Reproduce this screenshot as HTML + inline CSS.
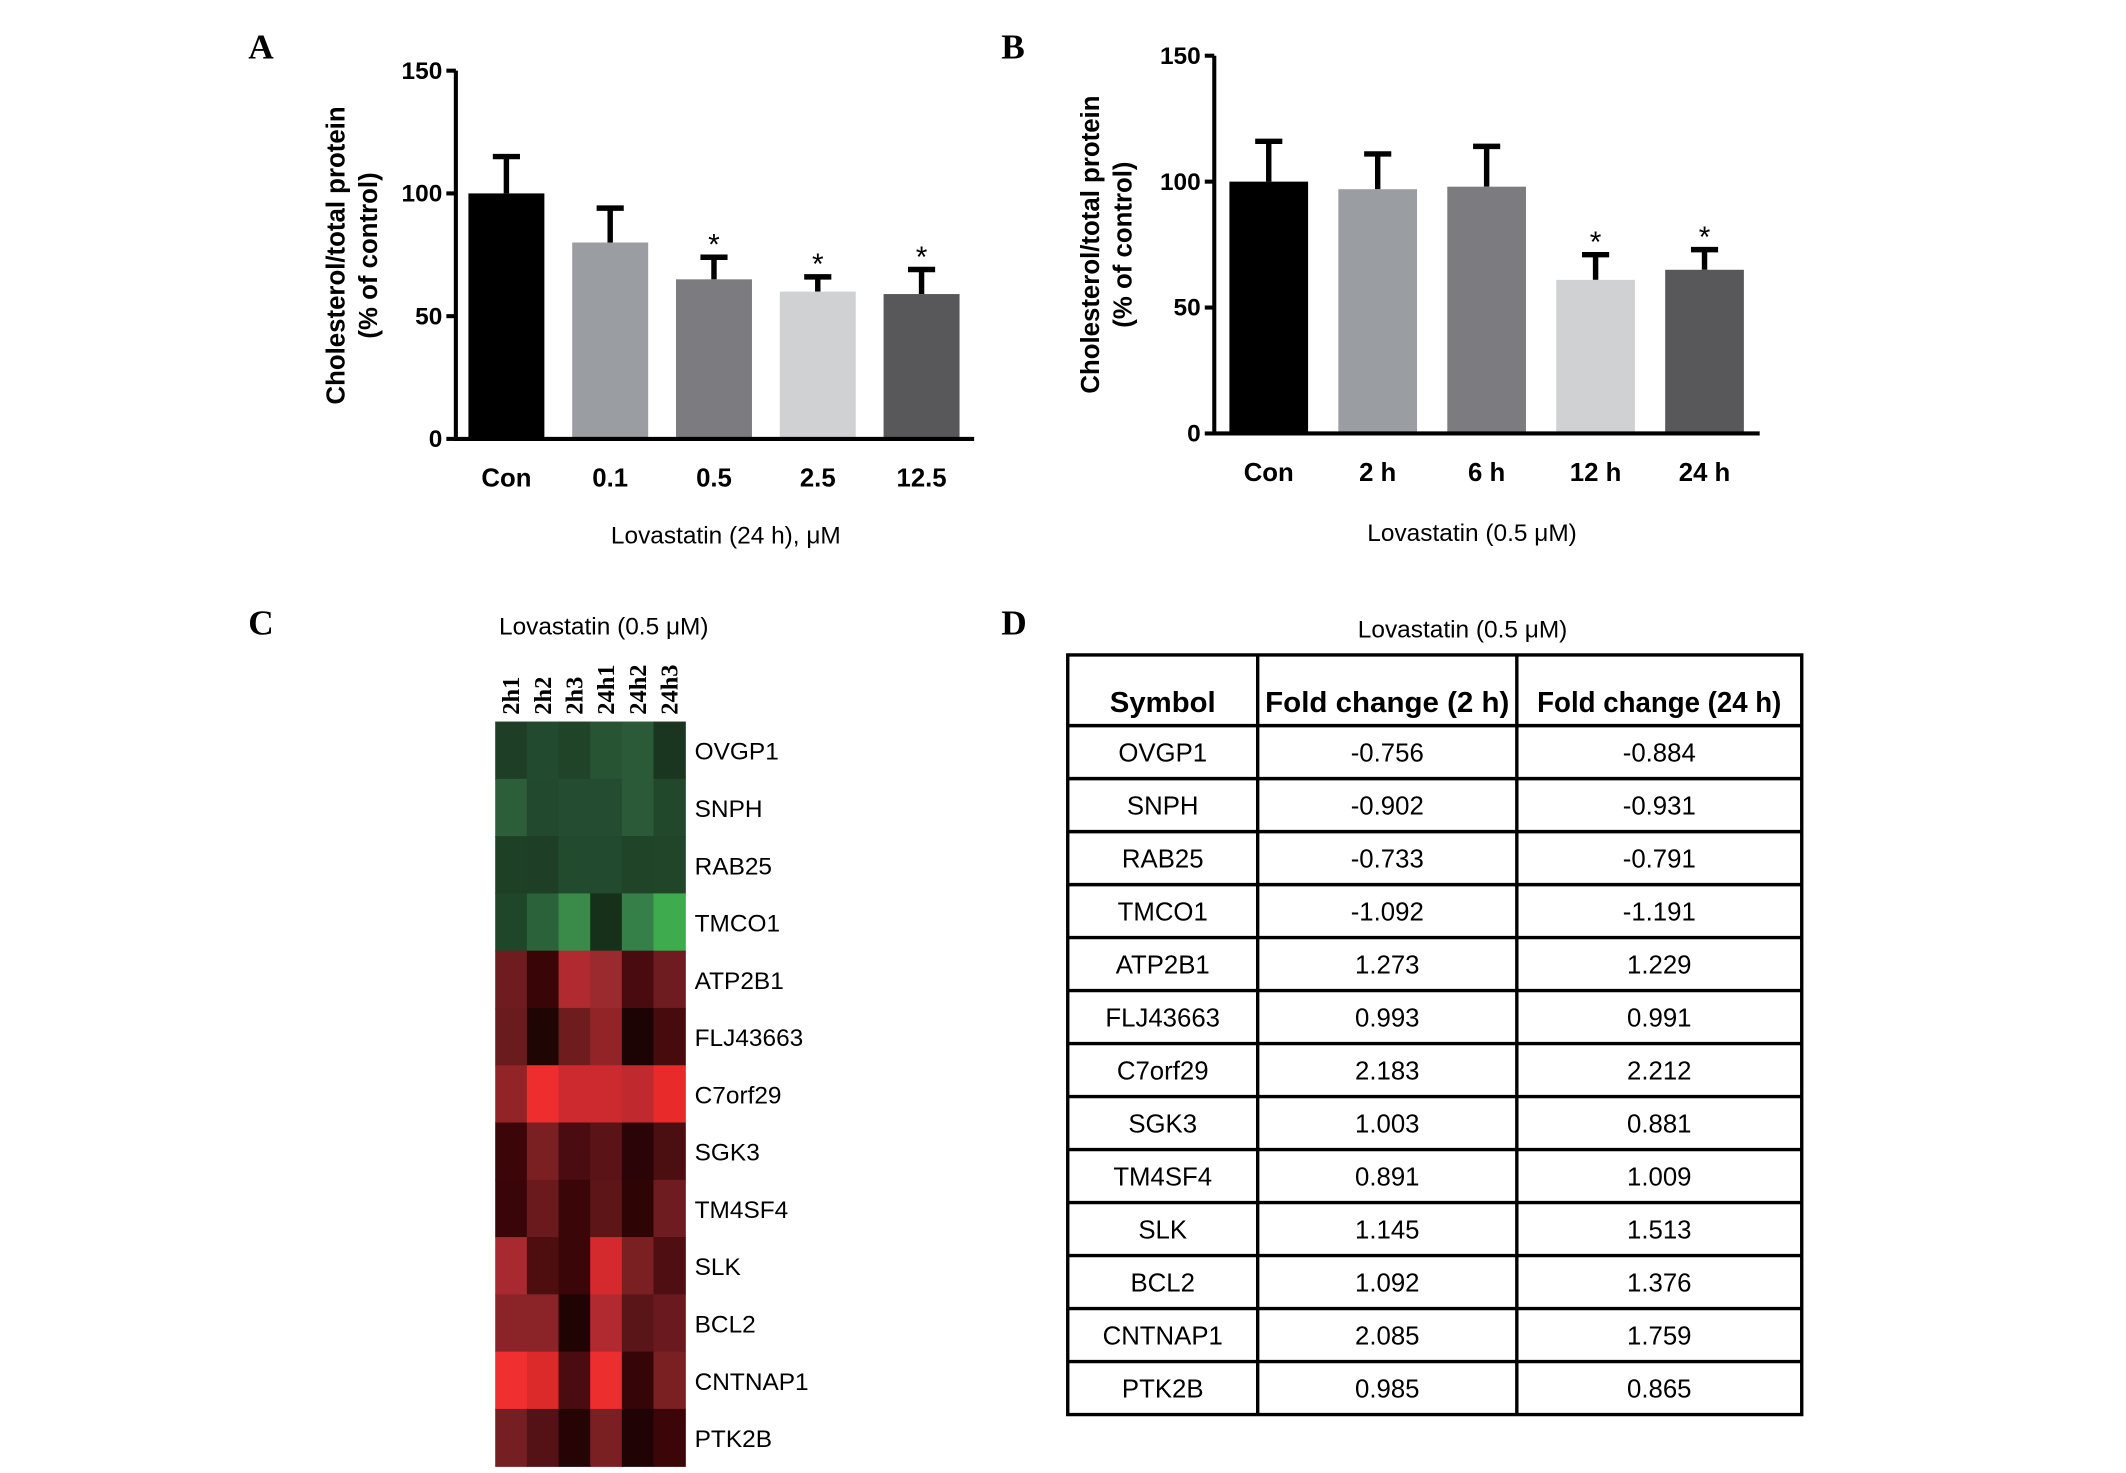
<!DOCTYPE html>
<html><head><meta charset="utf-8"><style>
html,body{margin:0;padding:0;background:#fff}
svg{display:block}
text{font-family:"Liberation Sans",Arial,sans-serif;fill:#000}
.b{font-weight:bold}
.ser{font-family:"Liberation Serif",serif;font-weight:bold}
</style></head><body>
<svg id="fig" width="2126" height="1473" viewBox="0 0 1567 1084" preserveAspectRatio="none" xmlns="http://www.w3.org/2000/svg">
<text class="ser" x="183" y="43" font-size="26">A</text>
<text class="ser" x="738" y="43" font-size="26">B</text>
<text class="ser" x="183" y="467" font-size="26">C</text>
<text class="ser" x="738" y="467" font-size="26">D</text>
<g id="chartA"></g>
<g id="chartB"></g>
<g id="heat"></g>
<g id="tbl"></g>
</svg>
<script>
const NS="http://www.w3.org/2000/svg";
const catsA=["Con","0.1","0.5","2.5","12.5"];
const valsA=[100,80,65,60,59];
const errA=[115,94,74,66,69];
const starA=[false,false,true,true,true];
const catsB=["Con","2 h","6 h","12 h","24 h"];
const valsB=[100,97,98,61,65];
const errB=[116,111,114,71,73];
const starB=[false,false,false,true,true];
const barColors=["#000000","#9a9da2","#7c7c80","#d0d1d3","#58585a"];
const yTicks=[0,50,100,150];
const genes=["OVGP1","SNPH","RAB25","TMCO1","ATP2B1","FLJ43663","C7orf29","SGK3","TM4SF4","SLK","BCL2","CNTNAP1","PTK2B"];
const samples=["2h1","2h2","2h3","24h1","24h2","24h3"];
const fc2=["-0.756","-0.902","-0.733","-1.092","1.273","0.993","2.183","1.003","0.891","1.145","1.092","2.085","0.985"];
const fc24=["-0.884","-0.931","-0.791","-1.191","1.229","0.991","2.212","0.881","1.009","1.513","1.376","1.759","0.865"];
const heatColors=[
["#1e3f26","#224a2e","#1f4428","#275534","#2a5a37","#1b3620"],
["#2c5e3a","#22492d","#234c30","#234c30","#2a5a37","#22482c"],
["#1e4126","#1e3f25","#224a2d","#224a2e","#1f4428","#204529"],
["#204629","#2b6239","#3a8a4a","#163019","#358048","#3eab4e"],
["#6e1c20","#3a0506","#b02a30","#9a2a2e","#4a0b10","#6e1c20"],
["#6a1b1e","#200505","#6e1c1e","#922428","#1c0404","#470b0e"],
["#922428","#ee2e2e","#cc2a2e","#cc2a2e","#c0292e","#e82a2a"],
["#3c0609","#7a1f22","#4a0c10","#5a1417","#2a0406","#4b0e11"],
["#3a0508","#6a1a1c","#3a0608","#5e1518","#2e0405","#6e1c20"],
["#a82a30","#4e0e10","#3a0608","#d42a2e","#7a1f22","#4e0e12"],
["#8a2428","#8a2428","#200404","#b02a30","#5a1518","#6a1a1e"],
["#f03030","#dc2a2a","#4a0c10","#ec2e2e","#360508","#7a1f22"],
["#761f22","#541216","#260405","#7a1f22","#200304","#3c0609"]];

function el(parent,tag,attrs,txt){const e=document.createElementNS(NS,tag);for(const k in attrs)e.setAttribute(k,attrs[k]);if(txt!==undefined)e.textContent=txt;parent.appendChild(e);return e;}

function barChart(gid,cfg,cats,vals,errs,stars){
  const g=document.getElementById(gid);
  const y=v=>cfg.y0-(cfg.y0-cfg.y150)*v/150;
  const x=i=>cfg.x0+cfg.step*(i+0.5)+cfg.pad;
  cats.forEach((c,i)=>{
    const cx=x(i),w=cfg.bw;
    const eb=el(g,"path",{d:`M${cx} ${y(vals[i])} V${y(errs[i])} M${cx-10} ${y(errs[i])} H${cx+10}`,stroke:"#000","stroke-width":4,fill:"none"});
    
    
    const r=el(g,"rect",{x:cx-w/2,y:y(vals[i]),width:w,height:y(0)-y(vals[i]),fill:barColors[i]});
    
    
    if(stars[i]){const s=el(g,"text",{x:cx,y:y(errs[i])-2,"text-anchor":"middle","font-size":22},"*");
      
      }
    const t=el(g,"text",{x:cx,y:cfg.y0+35,"text-anchor":"middle","font-size":19,class:"b"},c);
    
    
  });
  const ax=el(g,"path",{d:`M${cfg.x0} ${y(150)} V${y(0)} H${cfg.x1}`,stroke:"#000","stroke-width":3,fill:"none"});
  
  
  yTicks.forEach(v=>{
    const tk=el(g,"line",{x1:cfg.x0-7,x2:cfg.x0,y1:y(v),y2:y(v),stroke:"#000","stroke-width":3});
    
    
    const tl=el(g,"text",{x:cfg.x0-10,y:y(v)+6,"text-anchor":"end","font-size":18,class:"b"},String(v));
    
    
  });
  const yl=el(g,"text",{transform:`translate(${cfg.ylx},${cfg.yly}) rotate(-90)`,"text-anchor":"middle","font-size":19,class:"b"});
  
  
  el(yl,"tspan",{x:0,y:0},"Cholesterol/total protein");
  el(yl,"tspan",{x:0,y:24},"(% of control)");
  const xt=el(g,"text",{x:cfg.xtx,y:cfg.xty,"text-anchor":"middle","font-size":18},cfg.xtitle);
  
  
}
barChart("chartA",{x0:336,x1:718,y0:323,y150:52,step:76.5,pad:-1,bw:56,ylx:254,yly:188,xtx:535,xty:400,xtitle:"Lovastatin (24 h), μM"},catsA,valsA,errA,starA);
barChart("chartB",{x0:895,x1:1297,y0:319,y150:41,step:80.3,pad:0,bw:58,ylx:810,yly:180,xtx:1085,xty:398,xtitle:"Lovastatin (0.5 μM)"},catsB,valsB,errB,starB);

(function(){
  const g=document.getElementById("heat");
  const hx=365,hy=531,cw=140/6,rh=548/13;
  const t=el(g,"text",{x:445,y:467,"text-anchor":"middle","font-size":18},"Lovastatin (0.5 μM)");
  
  
  samples.forEach((s,j)=>{
    const cx=hx+cw*(j+0.5)+6;
    const l=el(g,"text",{transform:`translate(${cx},526) rotate(-90)`,"font-size":18,class:"ser"},s);
    
    
  });
  genes.forEach((gn,i)=>{
    heatColors[i].forEach((c,j)=>{
      const r=el(g,"rect",{x:hx+cw*j,y:hy+rh*i,width:cw+0.5,height:rh+0.5,fill:c});
      
      
    });
    const l=el(g,"text",{x:512,y:hy+rh*(i+0.5)+7,"font-size":18},gn);
    
    
  });
})();

(function(){
  const g=document.getElementById("tbl");
  const xs=[787,927,1118,1328],top=482,hb=534,rh=39;
  const t=el(g,"text",{x:1078,y:469,"text-anchor":"middle","font-size":18},"Lovastatin (0.5 μM)");
  
  
  const bottom=hb+rh*genes.length;
  const hdr=["Symbol","Fold change (2 h)","Fold change (24 h)"];
  hdr.forEach((h,j)=>{
    const e=el(g,"text",{x:(xs[j]+xs[j+1])/2,y:524,"text-anchor":"middle","font-size":21,class:"b",textLength:j?180:78,lengthAdjust:"spacingAndGlyphs"},h);
    
    
  });
  genes.forEach((gn,i)=>{
    const yy=hb+rh*i+rh/2+7;
    [gn,fc2[i],fc24[i]].forEach((v,j)=>{
      const e=el(g,"text",{x:(xs[j]+xs[j+1])/2,y:yy,"text-anchor":"middle","font-size":19},v);
      
      
    });
  });
  let d=`M${xs[0]} ${top} H${xs[3]} V${bottom} H${xs[0]} Z`;
  xs.slice(1,3).forEach(x=>d+=` M${x} ${top} V${bottom}`);
  for(let i=0;i<=genes.length-1;i++){d+=` M${xs[0]} ${hb+rh*i} H${xs[3]}`;}
  const gr=el(g,"path",{d:d,stroke:"#000","stroke-width":2.5,fill:"none"});
  
  
})();
</script>
</body></html>
